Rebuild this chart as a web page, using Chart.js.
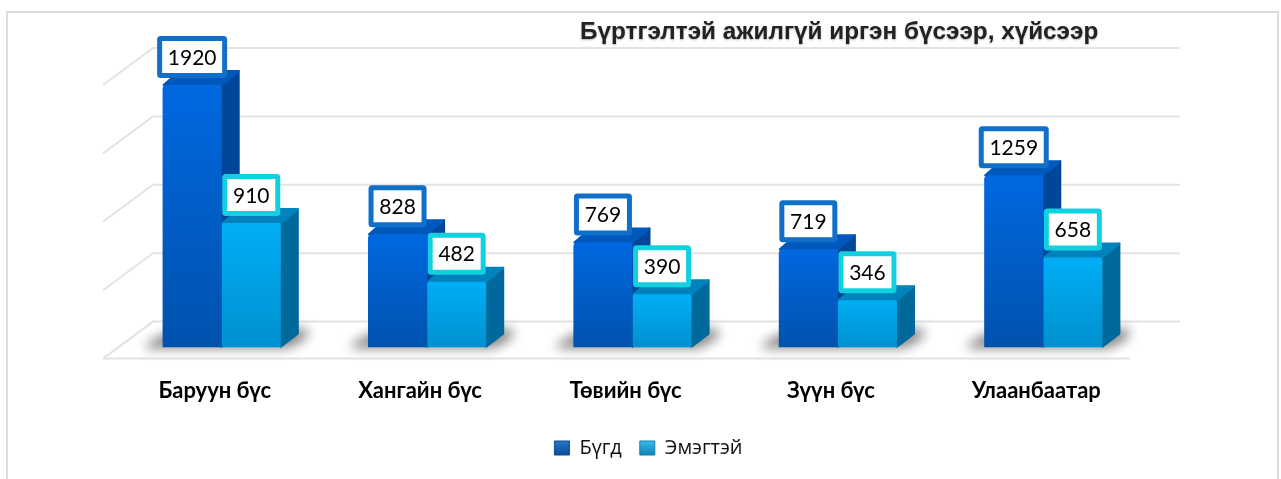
<!DOCTYPE html>
<html>
<head>
<meta charset="utf-8">
<style>
html, body { margin: 0; padding: 0; background: #fff; }
#wrap { width: 1281px; height: 479px; position: relative; }
</style>
<script src="https://cdn.jsdelivr.net/npm/chart.js@4/dist/chart.umd.min.js"></script>
</head>
<body>
<div id="wrap"><canvas id="myChart" width="1281" height="479"></canvas></div>
<script>
var categories = ['Баруун бүс', 'Хангайн бүс', 'Төвийн бүс', 'Зүүн бүс', 'Улаанбаатар'];
var seriesNames = ['Бүгд', 'Эмэгтэй'];
var totalValues = [1920, 828, 769, 719, 1259];
var femaleValues = [910, 482, 390, 346, 658];
var titleText = 'Бүртгэлтэй ажилгүй иргэн бүсээр, хүйсээр';

var frontTop = ['#0068e0', '#00aef5'];
var frontBottom = ['#0052ad', '#0090cf'];
var sideColor = ['#00479a', '#00699c'];
var topColor = ['#0058bd', '#0083bd'];
var labelBorder = ['#0f6fc9', '#12d0e0'];
var legendTop = ['#2a78cc', '#38c0ee'];
var legendBottom = ['#0a4a94', '#127fb0'];

var depthX = 17;
var depthY = 14;

// gradient for the front face of one bar
function frontFill(context) {
    var chart = context.chart;
    var i = context.datasetIndex;
    if (!chart.chartArea || context.parsed === undefined) return frontBottom[i];
    var y = chart.scales.y;
    var g = chart.ctx.createLinearGradient(0, y.getPixelForValue(context.parsed.y), 0, y.getPixelForValue(0));
    g.addColorStop(0, frontTop[i]);
    g.addColorStop(1, frontBottom[i]);
    return g;
}

function poly(ctx, pts, fill) {
    ctx.beginPath();
    ctx.moveTo(pts[0][0], pts[0][1]);
    for (var i = 1; i < pts.length; i++) ctx.lineTo(pts[i][0], pts[i][1]);
    ctx.closePath();
    ctx.fillStyle = fill;
    ctx.lineJoin = 'round';
    ctx.lineWidth = 2;
    ctx.strokeStyle = fill;
    ctx.stroke();
    ctx.fill();
}

var sceneBack = {
    id: 'sceneBack',
    afterLayout: function (chart) {
        // move the legend to where it sits in the picture
        chart.legend.left += 16;
        chart.legend.right += 16;
        chart.legend.top += 1;
        chart.legend.bottom += 1;
    },
    beforeDatasetsDraw: function (chart) {
        var ctx = chart.ctx;
        var yScale = chart.scales.y;
        var area = chart.chartArea;

        ctx.save();
        // outer frame, open at the bottom
        ctx.strokeStyle = '#dcdcdc';
        ctx.lineWidth = 2;
        ctx.beginPath();
        ctx.moveTo(7, 479);
        ctx.lineTo(7, 12);
        ctx.lineTo(1278, 12);
        ctx.lineTo(1278, 479);
        ctx.stroke();

        // walls and floor
        ctx.strokeStyle = '#e3e3e3';
        ctx.lineWidth = 2;
        var leftFront = area.left - 16;
        var leftBack = leftFront + 50;
        var rightFront = area.right - 16;
        var rightBack = rightFront + 50;
        yScale.ticks.forEach(function (t) {
            var py = yScale.getPixelForValue(t.value);
            ctx.beginPath();
            ctx.moveTo(leftFront, py + 11);
            ctx.lineTo(leftBack, py - 26);
            ctx.lineTo(rightBack, py - 26);
            ctx.stroke();
            if (t.value === 0) {
                ctx.beginPath();
                ctx.moveTo(leftFront, py + 11);
                ctx.lineTo(rightFront, py + 11);
                ctx.stroke();
            }
        });

        // floor shadows
        var first = chart.getDatasetMeta(0).data;
        var second = chart.getDatasetMeta(1).data;
        var base = yScale.getPixelForValue(0);
        ctx.filter = 'blur(6px)';
        first.forEach(function (bar, i) {
            var l = bar.x - bar.width / 2;
            var r = second[i].x + second[i].width / 2;
            poly(ctx, [[l - 16, base - 1], [l + 2, base - 12], [r + 26, base - 17], [r + 22, base - 9], [r + 6, base - 1]], 'rgba(60,60,60,0.65)');
        });
        ctx.filter = 'none';

        // side and top faces, first series behind the second
        [0, 1].forEach(function (s) {
            chart.getDatasetMeta(s).data.forEach(function (bar) {
                var l = bar.x - bar.width / 2;
                var r = bar.x + bar.width / 2;
                poly(ctx, [[r, bar.y], [r + depthX, bar.y - depthY], [r + depthX, base - depthY], [r, base - 1]], sideColor[s]);
                poly(ctx, [[l + 1, bar.y], [l + depthX, bar.y - depthY], [r + depthX, bar.y - depthY], [r, bar.y]], topColor[s]);
            });
        });
        ctx.restore();
    },
    afterDatasetsDraw: function (chart) {
        var ctx = chart.ctx;
        ctx.save();
        ctx.font = '21px Lato, "Noto Sans"';
        ctx.textAlign = 'center';
        ctx.textBaseline = 'middle';
        [0, 1].forEach(function (s) {
            var values = chart.data.datasets[s].data;
            chart.getDatasetMeta(s).data.forEach(function (bar, i) {
                var text = String(values[i]);
                var w = text.length > 3 ? 65 : 53;
                var h = 37;
                var x = bar.x - w / 2;
                var y = bar.y - 9.5 - h;
                ctx.beginPath();
                ctx.roundRect(x, y, w, h, 1);
                ctx.fillStyle = '#fff';
                ctx.fill();
                ctx.lineWidth = 5;
                ctx.strokeStyle = labelBorder[s];
                ctx.stroke();
                ctx.fillStyle = '#000';
                ctx.fillText(text, bar.x, y + h / 2 + 1);
            });
        });

        // title
        ctx.font = 'bold 24.3px "Liberation Sans"';
        ctx.textAlign = 'left';
        ctx.fillStyle = '#222';
        ctx.shadowColor = 'rgba(0,0,0,0.3)';
        ctx.shadowBlur = 2;
        ctx.shadowOffsetY = 1;
        ctx.fillText(titleText, 580, 32);
        ctx.restore();
    }
};

var ctx = document.getElementById('myChart').getContext('2d');

var chart = new Chart(ctx, {
    type: 'bar',
    data: {
        labels: categories,
        datasets: [
            { label: seriesNames[0], data: totalValues, backgroundColor: frontFill, borderRadius: { topLeft: 4 } },
            { label: seriesNames[1], data: femaleValues, backgroundColor: frontFill, borderRadius: { topLeft: 2, topRight: 2 } }
        ]
    },
    options: {
        responsive: false,
        animation: false,
        layout: { padding: { left: 119, right: 135, top: 74, bottom: 12 } },
        datasets: { bar: { barPercentage: 1, categoryPercentage: 0.5756 } },
        scales: {
            x: {
                grid: { display: false },
                border: { display: false },
                ticks: {
                    color: '#000',
                    font: { family: 'Lato, "Noto Sans"', size: 22, weight: 'bold' },
                    padding: 22,
                    labelOffset: -7,
                    maxRotation: 0
                },
                afterFit: function (scale) { scale.height -= 7; }
            },
            y: {
                min: 0,
                max: 2000,
                display: true,
                ticks: { display: false, stepSize: 500 },
                grid: { display: false },
                border: { display: false },
                afterFit: function (scale) { scale.width = 0; }
            }
        },
        plugins: {
            tooltip: { enabled: false },
            legend: {
                position: 'bottom',
                labels: {
                    color: '#111',
                    font: { family: '"Open Sans"', size: 20 },
                    boxWidth: 15,
                    boxHeight: 14,
                    padding: 18,
                    generateLabels: function (c) {
                        return seriesNames.map(function (name, i) {
                            var g = c.ctx.createLinearGradient(0, 440, 0, 456);
                            g.addColorStop(0, legendTop[i]);
                            g.addColorStop(1, legendBottom[i]);
                            return { text: name, fillStyle: g, strokeStyle: legendBottom[i], lineWidth: 1, datasetIndex: i, fontColor: '#111' };
                        });
                    }
                }
            }
        }
    },
    plugins: [sceneBack]
});
</script>
</body>
</html>
